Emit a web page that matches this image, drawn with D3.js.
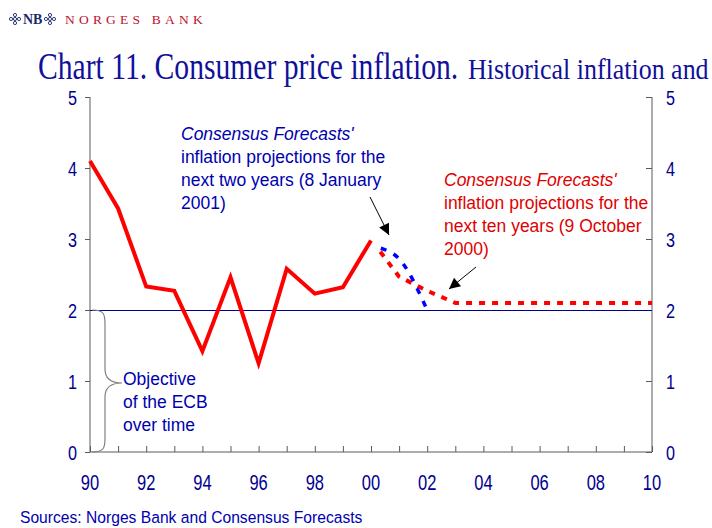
<!DOCTYPE html>
<html>
<head>
<meta charset="utf-8">
<script src="https://cdn.jsdelivr.net/npm/d3@7"></script>
<style>
  body { margin: 0; background: #fff; }
  text { font-family: Arial, "Liberation Sans", sans-serif; }
</style>
</head>
<body>
<svg id="chart" width="712" height="528"></svg>
<script>
// historical CPI inflation, euro area
var histYears = [1990, 1991, 1992, 1993, 1994, 1995, 1996, 1997, 1998, 1999, 2000];
var histValues = [4.1, 3.43, 2.33, 2.27, 1.42, 2.46, 1.25, 2.58, 2.23, 2.32, 2.98];

// Consensus Forecasts, next ten years (9 October 2000)
var tenYrYears = [2000.33, 2001, 2002, 2003, 2004, 2005, 2006, 2007, 2008, 2009, 2010];
var tenYrValues = [2.82, 2.47, 2.27, 2.1, 2.1, 2.1, 2.1, 2.1, 2.1, 2.1, 2.1];

// Consensus Forecasts, next two years (8 January 2001)
var twoYrYears = [2000.35, 2001, 2002];
var twoYrValues = [2.87, 2.72, 2.0];

var objective = 2;
var yTicks = [0, 1, 2, 3, 4, 5];
var xTickYears = [1990, 1992, 1994, 1996, 1998, 2000, 2002, 2004, 2006, 2008, 2010];
var xTickLabels = ["90", "92", "94", "96", "98", "00", "02", "04", "06", "08", "10"];

var navy = "#000090";
var svg = d3.select("#chart");

var x = d3.scaleLinear().domain([1990, 2010]).range([90, 652]);
var y = d3.scaleLinear().domain([0, 5]).range([452, 97]);

// squeezed text, the original slide was narrowed
function label(sel, px, py, str, opts) {
    var g = sel.append("g").attr("transform", "translate(" + px + "," + py + ") scale(" + (opts.sx || 1) + ",1)");
    var t = g.append("text")
        .attr("font-size", opts.size)
        .attr("fill", opts.fill)
        .attr("text-anchor", opts.anchor || "start")
        .text(str);
    if (opts.family) t.style("font-family", opts.family);
    if (opts.italic) t.attr("font-style", "italic");
    if (opts.spacing) t.attr("letter-spacing", opts.spacing);
    return t;
}

// logo
var logo = svg.append("g");
logo.append("text").attr("x", 23).attr("y", 24)
    .style("font-family", "'Liberation Serif', serif").attr("font-size", 14)
    .attr("font-weight", "bold").attr("fill", "#1a2a6a").text("NB");
[[15, 19], [11, 19], [15, 15], [15, 23], [19, 19], [50, 19], [46, 19], [50, 15], [50, 23], [54, 19]].forEach(function(p) {
    logo.append("circle").attr("cx", p[0]).attr("cy", p[1]).attr("r", 1.6)
        .attr("fill", "none").attr("stroke", "#1a2a6a").attr("stroke-width", 0.9);
});
label(svg, 65, 24, "NORGES BANK", { size: 13.5, fill: "#c0102c", family: "'Liberation Serif', serif", spacing: 4.2, sx: 1 });

// title
label(svg, 38, 79, "Chart 11. Consumer price inflation.", { size: 38, fill: "#10109a", family: "'Liberation Serif', 'Times New Roman', serif", sx: 0.78 });
label(svg, 468, 79, "Historical inflation and", { size: 29, fill: "#10109a", family: "'Liberation Serif', 'Times New Roman', serif", sx: 0.895 });

// axes
var axisCol = "#5a5a5a";
svg.append("g").attr("transform", "translate(90,0)")
    .call(d3.axisLeft(y).tickValues(yTicks).tickSize(5).tickFormat(""))
    .call(function(g) { g.selectAll("path,line").attr("stroke", axisCol); g.select(".domain").attr("d", "M0," + y(5) + "V" + y(0)); });
svg.append("g").attr("transform", "translate(652,0)")
    .call(d3.axisLeft(y).tickValues(yTicks).tickSize(0).tickFormat(""))
    .call(function(g) {
        g.selectAll("line").attr("x2", -6);
        g.selectAll("path,line").attr("stroke", axisCol);
        g.select(".domain").attr("d", "M0," + y(5) + "V" + y(0));
    });
svg.append("g").attr("transform", "translate(0," + y(0) + ")")
    .call(d3.axisBottom(x).tickValues(d3.range(1990, 2011)).tickSize(0).tickFormat(""))
    .call(function(g) {
        g.selectAll("line").attr("y2", -6);
        g.selectAll("path,line").attr("stroke", axisCol);
        g.select(".domain").attr("d", "M" + x(1990) + ",0H" + x(2010));
    });

// tick labels
yTicks.forEach(function(v) {
    label(svg, 77, y(v) + 7.5, String(v), { size: 21, fill: navy, anchor: "end", sx: 0.77 });
    label(svg, 666, y(v) + 7.5, String(v), { size: 21, fill: navy, anchor: "start", sx: 0.77 });
});
xTickYears.forEach(function(v, i) {
    label(svg, x(v), 490, xTickLabels[i], { size: 22, fill: navy, anchor: "middle", sx: 0.75 });
});

// inflation objective
svg.append("line")
    .attr("x1", x(1990)).attr("x2", x(2010))
    .attr("y1", Math.round(y(objective)) + 0.5).attr("y2", Math.round(y(objective)) + 0.5)
    .attr("stroke", navy).attr("stroke-width", 1);

var line = d3.line().x(function(d) { return x(d[0]); }).y(function(d) { return y(d[1]); });

svg.append("path")
    .datum(d3.zip(tenYrYears, tenYrValues))
    .attr("d", line).attr("fill", "none")
    .attr("stroke", "#ff0000").attr("stroke-width", 4)
    .attr("stroke-dasharray", "6,7");

svg.append("path")
    .datum(d3.zip(twoYrYears, twoYrValues))
    .attr("d", line.curve(d3.curveMonotoneX)).attr("fill", "none")
    .attr("stroke", "#0000ff").attr("stroke-width", 3.5)
    .attr("stroke-dasharray", "6,8");
line.curve(d3.curveLinear);

svg.append("path")
    .datum(d3.zip(histYears, histValues))
    .attr("d", line).attr("fill", "none")
    .attr("stroke", "#ff0000").attr("stroke-width", 4)
    .attr("stroke-linejoin", "miter");

// brace for the ECB objective
var bx = 92, tipX = 122, braceTop = y(2), braceBot = y(0), braceMid = y(1) + 2;
svg.append("path")
    .attr("d", "M" + bx + "," + braceTop +
        " C" + (bx + 12) + "," + braceTop + " " + (bx + 13) + "," + (braceTop + 4) + " " + (bx + 13) + "," + (braceTop + 14) +
        " L" + (bx + 13) + "," + (braceMid - 14) +
        " C" + (bx + 13) + "," + (braceMid - 4) + " " + (bx + 20) + "," + braceMid + " " + tipX + "," + braceMid +
        " C" + (bx + 20) + "," + braceMid + " " + (bx + 13) + "," + (braceMid + 4) + " " + (bx + 13) + "," + (braceMid + 14) +
        " L" + (bx + 13) + "," + (braceBot - 14) +
        " C" + (bx + 13) + "," + (braceBot - 4) + " " + (bx + 12) + "," + braceBot + " " + bx + "," + braceBot)
    .attr("fill", "none").attr("stroke", "#808080").attr("stroke-width", 1.2);

// arrows
svg.append("defs").append("marker")
    .attr("id", "head").attr("viewBox", "0 0 10 10")
    .attr("refX", 10).attr("refY", 5)
    .attr("markerWidth", 13).attr("markerHeight", 11)
    .attr("markerUnits", "userSpaceOnUse")
    .attr("orient", "auto")
    .append("path").attr("d", "M0,0L10,5L0,10Z").attr("fill", "#000");
svg.append("line").attr("x1", 370).attr("y1", 197).attr("x2", 389).attr("y2", 235)
    .attr("stroke", "#000").attr("stroke-width", 1).attr("marker-end", "url(#head)");
svg.append("line").attr("x1", 476).attr("y1", 267).attr("x2", 449).attr("y2", 289)
    .attr("stroke", "#000").attr("stroke-width", 1).attr("marker-end", "url(#head)");

// annotations
var blueNote = ["inflation projections for the", "next two years (8 January", "2001)"];
label(svg, 181, 140, "Consensus Forecasts'", { size: 17.5, fill: "#0000b0", italic: true });
blueNote.forEach(function(s, i) {
    label(svg, 181, 163 + i * 23, s, { size: 17.5, fill: "#0000b0" });
});
var redNote = ["inflation projections for the", "next ten years (9 October", "2000)"];
label(svg, 444, 186, "Consensus Forecasts'", { size: 17.5, fill: "#e00000", italic: true });
redNote.forEach(function(s, i) {
    label(svg, 444, 209 + i * 23, s, { size: 17.5, fill: "#e00000" });
});
["Objective", "of the ECB", "over time"].forEach(function(s, i) {
    label(svg, 123, 385 + i * 23, s, { size: 17.5, fill: "#0000b0" });
});

label(svg, 20, 523, "Sources: Norges Bank and Consensus Forecasts", { size: 17, fill: "#0000b0", sx: 0.92 });
</script>
</body>
</html>
